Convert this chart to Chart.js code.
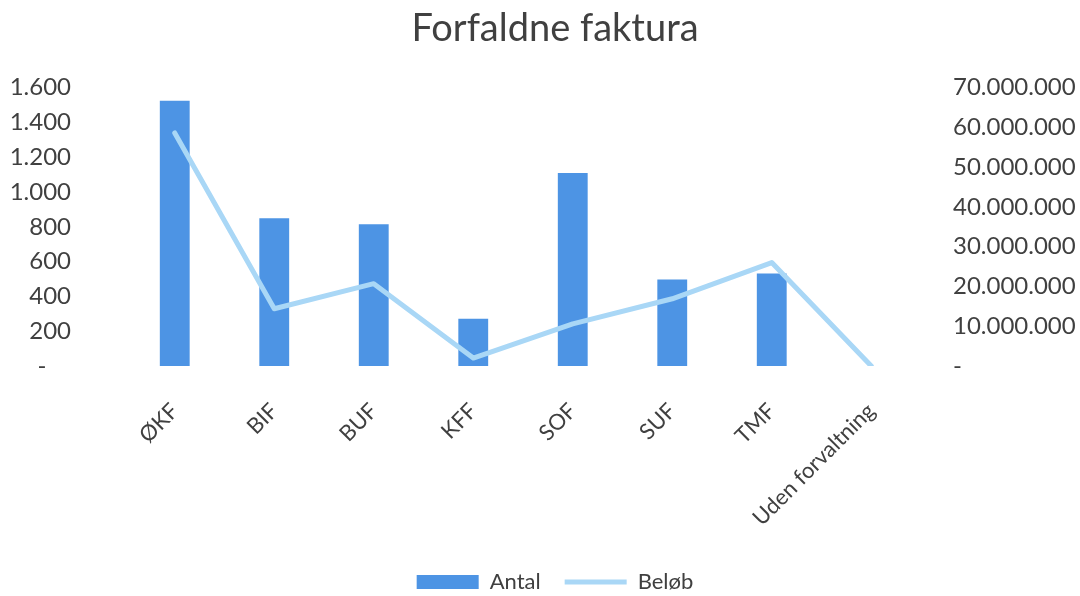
<!DOCTYPE html>
<html>
<head>
<meta charset="utf-8">
<script src="https://cdn.jsdelivr.net/npm/chart.js@4"></script>
<style>
  html, body { margin: 0; padding: 0; background: #fff; }
  #wrap { width: 1080px; height: 596px; }
</style>
</head>
<body>
<div id="wrap"><canvas id="fakturaChart"></canvas></div>
<script>
const labels = ['ØKF', 'BIF', 'BUF', 'KFF', 'SOF', 'SUF', 'TMF', 'Uden forvaltning'];
const antal = [1525, 849, 815, 272, 1109, 497, 531, 0];
const beloeb = [58600000, 14400000, 20700000, 2000000, 10600000, 16900000, 26000000, 0];

const colorBar = '#4d94e4';
const colorLine = '#a9d7f6';
const colorText = '#404040';
const fontFamily = 'Lato, "Open Sans", sans-serif';

// dansk talformat: 1.600 og "-" for nul
function fmt(v) {
    if (v === 0) return null;
    return String(Math.round(v)).replace(/\B(?=(\d{3})+(?!\d))/g, '.');
}

const ctx = document.getElementById('fakturaChart').getContext('2d');
new Chart(ctx, {
    data: {
        labels: labels,
        datasets: [
            {
                type: 'line',
                label: 'Beløb',
                data: beloeb,
                borderColor: colorLine,
                backgroundColor: colorLine,
                borderWidth: 5,
                borderCapStyle: 'round',
                borderJoinStyle: 'round',
                tension: 0,
                pointRadius: 0,
                pointHoverRadius: 0,
                pointStyle: 'line',
                yAxisID: 'y1',
                order: 0
            },
            {
                type: 'bar',
                label: 'Antal',
                data: antal,
                backgroundColor: colorBar,
                borderWidth: 0,
                barPercentage: 0.3,
                categoryPercentage: 1,
                pointStyle: 'rect',
                yAxisID: 'y',
                order: 1
            }
        ]
    },
    options: {
        responsive: true,
        maintainAspectRatio: false,
        animation: false,
        // negativ højre padding flytter titel og forklaring lidt mod højre
        layout: { padding: { left: 0, right: -30, top: 0, bottom: -7 } },
        plugins: {
            title: {
                display: true,
                text: 'Forfaldne faktura',
                color: colorText,
                font: { family: fontFamily, size: 38, weight: 'normal' },
                padding: { top: 6, bottom: 36 }
            },
            legend: {
                position: 'bottom',
                reverse: true,
                labels: {
                    color: colorText,
                    font: { family: fontFamily, size: 22 },
                    usePointStyle: true,
                    pointStyleWidth: 62,
                    boxHeight: 14,
                    padding: 24
                }
            },
            tooltip: { enabled: false }
        },
        scales: {
            x: {
                offset: true,
                grid: { display: false, drawTicks: false },
                border: { display: false },
                ticks: {
                    color: colorText,
                    font: { family: fontFamily, size: 22 },
                    minRotation: 45,
                    maxRotation: 45,
                    autoSkip: false,
                    padding: 32
                },
                afterFit: function(scale) { scale.height = 181; }
            },
            y: {
                position: 'left',
                min: 0,
                max: 1600,
                grid: { display: false, drawTicks: false },
                border: { display: false },
                ticks: {
                    stepSize: 200,
                    color: colorText,
                    font: { family: fontFamily, size: 24 },
                    padding: 54,
                    callback: function(v) { return v === 0 ? '-    ' : fmt(v); }
                },
                afterFit: function(scale) { scale.width = 125; }
            },
            y1: {
                position: 'right',
                min: 0,
                max: 70000000,
                grid: { display: false, drawTicks: false },
                border: { display: false },
                ticks: {
                    stepSize: 10000000,
                    color: colorText,
                    font: { family: fontFamily, size: 24 },
                    padding: 32,
                    callback: function(v) { return v === 0 ? '-' : fmt(v); }
                },
                afterFit: function(scale) { scale.width = 189; }
            }
        }
    }
});
</script>
</body>
</html>
